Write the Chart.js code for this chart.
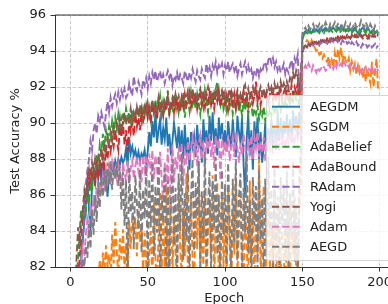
<!DOCTYPE html>
<html>
<head>
<meta charset="utf-8">
<script src="https://cdn.jsdelivr.net/npm/chart.js@4.4.1/dist/chart.umd.min.js"></script>
<style>
html,body{margin:0;padding:0;background:#fff;overflow:hidden;}
#wrap{width:400px;height:304px;}
</style>
</head>
<body>
<div id="wrap"><canvas id="c" width="400" height="304"></canvas></div>
<script>
const seriesNames = ["AEGDM","SGDM","AdaBelief","AdaBound","RAdam","Yogi","Adam","AEGD"];
const xTicks = [0,50,100,150,200];
const yTicks = [82,84,86,88,90,92,94,96];

const AEGDM = [
70,73,76,78,79.5,80.5,81.5,82.5,83.5,84.5,
85.5,86.8,85.2,84.0,86.6,87.4,86.5,87.9,86.9,87.6,
86.8,87.8,86.5,87.4,85.9,87.2,86.8,87.6,87.3,87.9,
87.5,88.0,87.7,88.1,87.8,88.0,88.6,87.6,89.2,88.3,
88.7,88.2,88.5,88.0,88.4,87.9,88.3,88.1,88.5,87.8,
88.4,89.5,88.7,90.1,89.2,90.5,88.9,89.6,90.2,88.8,
89.7,89.1,90.3,88.7,89.4,88.2,89.0,90.0,89.3,88.6,
89.8,88.4,89.6,88.0,89.9,88.3,89.2,87.4,89.5,88.7,
89.3,88.1,89.9,88.6,89.4,87.8,90.2,88.9,89.6,88.3,
90.4,89.0,90.6,88.8,89.7,88.2,90.3,89.1,90.0,88.7,
89.6,88.4,90.1,89.3,88.6,90.2,89.0,88.1,90.4,89.5,
88.9,90.3,87.7,85.9,89.1,90.5,88.2,89.6,87.4,90.1,
88.8,90.3,88.0,89.5,87.8,88.6,90.0,88.4,89.7,88.9,
90.2,88.7,89.9,88.5,90.6,89.0,90.3,88.8,90.1,89.4,
90.5,89.1,90.2,88.9,90.7,89.6,90.4,89.2,90.6,89.8,
94.8,95.0,95.1,95.0,95.2,95.1,95.0,95.2,95.1,95.2,
95.1,95.2,95.3,95.1,95.2,95.3,95.2,95.1,95.3,95.2,
95.3,95.2,95.1,95.3,95.2,95.4,95.2,95.3,95.1,95.2,
95.3,95.2,95.1,95.2,95.3,95.1,95.0,94.9,95.2,95.3,
95.2,95.1,95.3,95.2,95.0,95.1,95.2,95.0,95.1,94.9];

const SGDM = [
60,65,68,71,73,75,76,77,78,79,
79.5,80.0,80.5,81.0,80.6,81.4,80.8,81.8,81.2,82.4,
81.0,82.8,81.6,83.2,82.0,82.7,81.3,83.8,82.2,84.5,
82.9,81.5,83.6,82.4,84.1,81.8,83.3,80.9,84.6,83.0,
85.0,83.8,84.7,82.6,85.2,83.4,84.3,81.6,83.9,82.2,
80.5,82.8,84.0,81.2,85.6,82.4,80.8,83.7,86.2,81.5,
84.8,82.0,86.5,80.6,83.4,85.9,81.7,84.5,82.9,80.9,
86.8,83.1,81.4,85.3,82.6,87.2,81.0,84.2,86.0,82.3,
80.7,85.5,83.0,87.8,81.6,84.7,82.1,86.3,80.8,83.9,
85.8,82.5,87.1,81.3,84.4,86.7,80.5,83.6,85.9,82.0,
84.6,81.2,86.4,83.3,80.9,85.2,82.7,87.0,81.5,84.0,
86.1,82.4,80.6,85.7,83.1,81.0,86.8,82.2,84.9,80.7,
85.3,82.6,88.0,81.4,84.2,86.5,80.8,83.7,85.6,81.9,
84.5,82.3,86.2,80.9,83.8,85.1,81.6,84.0,82.5,80.8,
83.5,85.4,81.2,84.3,82.7,86.0,81.8,80.5,84.9,86.6,
93.9,94.2,94.4,94.6,94.5,94.3,94.6,94.4,94.2,94.0,
94.1,93.8,93.9,93.6,93.8,93.5,93.4,93.7,93.2,93.5,
93.1,93.9,93.3,94.1,93.6,94.2,93.4,93.8,93.5,93.3,
93.6,92.9,93.4,93.0,93.3,92.7,93.2,92.8,93.1,92.5,
92.9,92.3,93.0,92.6,92.2,93.4,92.0,92.8,93.6,91.8];

const AdaBelief = [
71,75,78,80,81.5,82.5,84.0,85.2,84.5,85.6,
85.0,86.3,85.5,87.0,86.2,87.6,86.8,88.2,87.5,88.8,
88.3,89.4,88.7,89.6,89.1,89.8,89.3,90.1,89.5,90.3,
89.7,90.5,89.9,90.2,90.6,90.0,90.8,90.3,90.6,90.1,
90.7,90.2,90.5,90.9,90.3,90.6,90.1,90.8,90.4,91.0,
90.5,90.9,90.2,91.1,90.6,91.3,90.4,90.9,91.5,90.5,
91.2,90.7,91.0,91.8,90.4,91.1,90.8,91.6,90.9,91.3,
90.6,91.2,90.8,91.5,90.3,91.0,91.4,90.7,91.7,91.0,
91.3,90.8,91.6,91.1,90.5,91.4,90.9,91.8,91.2,90.6,
91.5,91.0,91.7,91.2,91.9,92.3,91.4,91.0,91.6,90.8,
91.2,90.7,91.4,90.9,91.3,90.5,91.1,90.8,91.5,90.6,
91.0,90.4,91.2,90.7,91.3,90.5,90.9,91.1,90.3,90.8,
90.5,91.0,90.2,90.7,90.4,90.9,90.1,90.6,90.3,90.8,
90.4,90.9,90.5,91.0,90.6,91.1,90.7,91.2,90.8,91.3,
90.9,91.4,91.0,91.5,91.2,91.6,91.3,91.7,91.0,91.8,
94.6,94.9,95.0,94.9,95.1,95.0,95.1,95.0,95.2,95.0,
95.1,95.0,95.2,95.1,95.0,95.2,95.1,95.0,95.2,95.1,
95.0,95.2,95.1,95.2,95.0,95.1,95.2,95.1,95.0,95.2,
95.1,95.2,95.0,95.1,95.2,95.1,95.0,95.2,95.1,95.2,
95.1,95.0,95.2,95.1,95.0,95.1,95.2,95.0,95.1,95.0];

const AdaBound = [
70,74,77,79,80.5,81.5,82.5,83.5,84.6,85.5,
86.4,87.2,86.6,87.5,86.9,87.3,86.7,87.6,87.1,87.8,
87.4,88.2,87.6,88.5,88.0,88.8,88.4,89.2,88.7,89.5,
89.0,88.5,89.8,89.2,90.1,88.8,89.6,88.4,90.2,89.5,
90.0,89.3,90.5,89.8,90.3,89.6,90.7,90.1,90.5,90.9,
90.3,90.8,90.0,91.1,90.5,90.9,90.2,91.2,90.6,91.0,
90.4,91.2,90.7,91.4,90.5,90.9,91.3,90.6,91.5,90.8,
91.2,90.6,91.4,90.9,91.6,91.0,91.3,91.7,90.9,91.5,
91.1,91.6,90.8,91.4,91.8,91.0,91.5,90.9,91.6,91.2,
91.7,91.0,91.4,90.8,91.6,91.2,91.8,90.9,91.3,91.6,
91.0,91.5,90.7,91.3,91.7,91.1,91.6,90.8,91.4,91.0,
91.5,91.1,91.8,91.2,91.6,90.9,91.4,91.8,91.1,91.5,
92.3,91.2,91.7,91.0,91.5,91.9,91.3,91.7,91.1,91.6,
91.9,91.3,91.7,91.2,91.8,91.4,91.9,91.3,91.7,92.0,
91.5,91.9,91.4,92.1,91.6,92.0,91.7,92.2,91.5,91.9,
93.9,94.2,94.3,94.2,94.4,94.3,94.5,94.4,94.5,94.4,
94.5,94.4,94.6,94.5,94.6,94.5,94.7,94.6,94.5,94.7,
94.6,94.7,94.6,94.8,94.7,94.6,94.8,94.7,94.8,94.7,
94.8,94.7,94.8,94.7,94.9,94.8,94.7,94.9,94.8,94.7,
94.8,94.9,94.8,94.7,94.9,94.8,94.9,94.8,94.7,94.8];

const RAdam = [
70,75,77,79,80,81,81.5,82.5,83.5,85.0,
86.5,87.3,88.0,89.0,88.5,89.6,90.0,89.4,90.4,90.1,
90.6,90.2,89.8,90.5,91.2,90.6,91.4,90.9,91.3,91.6,
91.1,91.7,91.3,91.8,91.5,91.9,91.4,91.6,92.2,91.8,
91.5,92.6,92.0,91.8,92.3,92.0,91.6,92.4,92.1,92.5,
91.9,92.6,92.2,92.8,92.4,92.9,92.3,92.6,92.9,92.4,
92.7,92.2,92.6,92.9,92.5,92.8,92.1,92.6,92.4,92.8,
92.3,92.7,92.5,92.2,92.9,92.6,92.3,92.8,92.5,93.0,
92.6,92.3,92.9,92.6,92.4,93.0,92.7,92.5,93.3,92.8,
93.1,92.6,93.2,92.9,93.4,92.8,93.2,93.0,93.3,92.7,
93.2,92.9,93.4,92.8,93.1,93.3,92.9,93.2,92.6,93.0,
93.3,92.7,93.1,93.4,92.9,93.2,92.8,93.0,92.5,92.9,
92.7,93.1,92.6,93.0,92.8,93.2,93.4,93.0,93.5,93.7,
93.3,93.6,93.1,93.4,92.9,93.2,92.8,93.0,93.3,92.7,
93.0,92.8,93.2,93.5,92.9,93.6,93.3,93.8,91.8,92.4,
94.0,94.2,94.3,94.2,94.4,94.3,94.5,94.3,94.4,94.5,
94.4,94.3,94.5,94.4,94.6,94.5,94.4,94.6,94.5,94.6,
94.5,94.6,94.7,94.5,94.6,94.4,94.6,94.5,94.6,94.4,
94.5,94.3,94.5,94.4,94.3,94.5,94.3,94.4,94.2,94.4,
94.3,94.4,94.2,94.3,94.4,94.2,94.3,94.4,94.2,94.3];

const Yogi = [
72,76,78,80,82.5,84.2,83.0,84.5,85.2,86.2,
85.5,86.8,87.4,86.6,87.8,87.2,88.0,87.5,88.1,87.7,
88.4,88.0,88.9,88.3,89.2,88.8,89.5,89.0,89.8,89.4,
90.0,89.6,90.3,89.5,90.1,90.6,89.9,90.4,90.2,90.8,
90.1,90.6,90.3,90.9,90.4,91.0,90.5,90.2,90.9,90.6,
91.1,90.4,90.8,91.3,90.6,91.0,90.7,91.4,90.8,91.1,
90.6,91.2,90.9,91.5,90.8,91.1,91.4,90.9,91.6,91.2,
91.5,90.9,91.3,91.7,91.0,91.4,91.8,91.2,91.5,91.9,
91.3,91.7,91.1,91.6,91.9,91.4,91.8,91.2,91.6,92.0,
91.5,91.8,91.3,91.7,91.4,91.9,91.2,91.6,91.8,91.3,
91.7,91.2,91.5,91.9,91.3,91.6,91.1,91.5,91.8,91.2,
91.6,91.3,91.8,92.1,91.5,91.9,91.4,91.7,92.0,91.5,
91.8,91.3,91.7,92.0,91.6,91.9,91.4,91.8,92.1,91.7,
92.0,91.6,92.2,91.8,92.1,91.7,92.3,91.9,92.2,91.8,
92.3,92.0,92.5,92.2,92.8,92.4,92.9,92.6,92.0,92.8,
94.0,94.2,94.3,94.2,94.4,94.3,94.4,94.5,94.4,94.5,
94.4,94.6,94.5,94.6,94.5,94.7,94.6,94.5,94.7,94.6,
94.7,94.6,94.8,94.7,94.6,94.8,94.7,94.8,94.7,94.9,
94.8,94.7,94.9,94.8,94.7,94.9,94.8,94.7,94.9,94.8,
94.9,94.8,94.7,94.9,94.8,95.0,94.8,94.9,94.8,94.9];

const Adam = [
68,72,75,77,79,80.5,81.5,82.2,83.0,82.6,
83.8,84.6,84.0,85.4,84.8,86.0,85.2,86.5,85.8,86.8,
86.2,87.1,86.5,87.4,86.8,87.6,87.0,87.8,87.2,87.5,
86.9,87.7,87.1,86.4,87.8,87.2,86.8,87.9,86.6,87.5,
87.9,86.9,87.6,88.1,87.3,87.8,86.7,88.2,87.4,88.0,
87.6,88.3,87.1,88.5,86.9,88.2,87.5,86.2,88.4,87.0,
85.6,87.8,86.4,88.6,84.9,87.3,88.8,86.7,88.1,87.4,
88.7,87.2,88.9,86.5,88.4,87.7,89.0,87.9,88.6,89.2,
88.3,89.1,87.6,88.8,89.3,88.0,89.0,87.4,89.2,88.5,
89.4,88.1,88.9,87.5,89.3,88.6,89.1,86.8,89.4,88.2,
89.0,88.4,89.3,87.9,88.7,89.2,88.1,89.5,88.6,87.8,
88.9,88.2,89.4,88.7,87.5,89.1,88.4,89.3,88.0,89.2,
88.6,89.5,88.1,89.0,88.4,89.2,87.9,88.8,89.3,88.5,
89.0,88.3,89.4,88.7,89.1,88.4,89.5,88.8,89.2,88.6,
89.3,88.9,89.6,89.0,89.4,88.8,89.7,89.1,89.5,89.3,
92.8,93.0,93.2,93.0,93.3,93.1,92.9,93.2,93.0,92.8,
93.1,92.9,93.0,93.2,93.1,92.9,93.0,93.3,93.1,93.2,
93.0,93.3,93.1,93.4,93.2,93.3,93.1,93.4,93.2,93.3,
93.1,93.3,93.2,93.0,93.2,93.1,92.9,93.1,92.8,93.0,
92.9,93.1,92.8,93.0,92.9,93.1,92.8,93.0,93.1,92.9];

const AEGD = [
66,70,73,75,77,79,80.5,81.5,82.5,82.0,
83.2,82.5,84.4,83.0,85.2,83.8,86.0,84.5,86.7,85.3,
87.0,85.9,87.4,86.2,87.8,86.6,87.9,86.3,87.5,86.9,
87.8,86.5,87.6,85.2,87.3,84.3,86.8,81.0,87.5,85.0,
86.2,83.0,87.1,85.6,84.1,87.4,82.8,86.3,84.7,87.6,
81.5,86.9,84.2,87.8,82.6,86.5,83.9,88.2,81.2,86.0,
84.5,87.5,82.0,86.8,80.8,85.6,88.0,83.2,86.4,81.6,
87.2,84.0,88.3,82.4,86.1,83.5,87.6,81.3,85.8,88.0,
82.9,86.7,84.8,87.9,81.8,86.2,83.6,88.4,82.2,85.5,
87.3,81.4,86.8,84.2,88.1,82.7,86.0,80.9,87.4,83.8,
86.6,82.1,87.8,84.6,81.7,86.9,83.3,88.0,82.4,85.9,
87.2,81.1,86.4,83.9,88.2,82.8,85.7,80.6,87.0,84.3,
86.5,81.9,87.4,83.5,85.8,80.7,86.9,82.6,88.1,84.0,
86.3,81.2,87.5,83.4,85.9,81.8,87.0,84.2,86.6,82.5,
87.3,81.6,86.1,83.7,87.8,82.3,85.4,81.0,86.8,88.5,
95.0,95.2,95.3,95.1,95.4,95.2,95.3,95.5,95.2,95.4,
95.3,95.5,95.2,95.4,95.3,95.6,95.4,95.2,95.5,95.3,
95.4,95.6,95.3,95.5,95.4,95.2,95.5,95.3,95.6,95.4,
95.3,95.5,95.2,95.4,95.6,95.3,95.5,95.4,95.7,95.5,
95.3,95.6,95.4,95.2,95.5,95.3,95.1,95.4,95.2,95.0];

const epochs = AEGDM.map((_, i) => i);

const seriesValues = [AEGDM, SGDM, AdaBelief, AdaBound, RAdam, Yogi, Adam, AEGD];
const colors = ["#1f77b4","#ff7f0e","#2ca02c","#d62728","#9467bd","#8c564b","#e377c2","#7f7f7f"];
const DASH = [7.2, 3.1];
const LW = 1.9;

const datasets = seriesNames.map((name, k) => ({
  label: name,
  data: seriesValues[k].map((v, i) => ({x: epochs[i], y: v})),
  borderColor: colors[k],
  backgroundColor: colors[k],
  borderWidth: LW,
  borderDash: k === 0 ? [] : DASH,
  pointRadius: 0,
  tension: 0,
  fill: false,
  clip: 0,
  order: seriesNames.length - 1 - k
}));

const FONT = "'DejaVu Sans', sans-serif";
Chart.defaults.font.family = FONT;
Chart.defaults.font.size = 13;
Chart.defaults.color = "#222";

const legendPlugin = {
  id: "mplLegend",
  afterDatasetsDraw(chart) {
    const ctx = chart.ctx;
    const x0 = 266.5, y0 = 95.5, w = 140, h = 165, r = 3;
    ctx.save();
    ctx.beginPath();
    ctx.moveTo(x0 + r, y0);
    ctx.lineTo(x0 + w - r, y0);
    ctx.arcTo(x0 + w, y0, x0 + w, y0 + r, r);
    ctx.lineTo(x0 + w, y0 + h - r);
    ctx.arcTo(x0 + w, y0 + h, x0 + w - r, y0 + h, r);
    ctx.lineTo(x0 + r, y0 + h);
    ctx.arcTo(x0, y0 + h, x0, y0 + h - r, r);
    ctx.lineTo(x0, y0 + r);
    ctx.arcTo(x0, y0, x0 + r, y0, r);
    ctx.closePath();
    ctx.fillStyle = "rgba(255,255,255,0.8)";
    ctx.fill();
    ctx.strokeStyle = "rgba(204,204,204,0.8)";
    ctx.lineWidth = 1;
    ctx.stroke();
    chart.data.datasets.forEach((ds, i) => {
      const cy = 106.7 + i * 20;
      ctx.beginPath();
      ctx.setLineDash(ds.borderDash || []);
      ctx.strokeStyle = ds.borderColor;
      ctx.lineWidth = LW;
      ctx.moveTo(272, cy);
      ctx.lineTo(300, cy);
      ctx.stroke();
      ctx.setLineDash([]);
      ctx.fillStyle = "#222";
      ctx.font = "13px " + FONT;
      ctx.textBaseline = "middle";
      ctx.textAlign = "left";
      ctx.fillText(ds.label, 310, cy + 0.5);
    });
    ctx.restore();
  },
  beforeDatasetsDraw(chart) {
    const {ctx, chartArea} = chart;
    ctx.save();
    ctx.strokeStyle = "#333";
    ctx.lineWidth = 1;
    ctx.beginPath();
    ctx.moveTo(chartArea.left, chartArea.top);
    ctx.lineTo(chartArea.right, chartArea.top);
    ctx.lineTo(chartArea.right, chartArea.bottom);
    ctx.stroke();
    ctx.restore();
  }
};

new Chart(document.getElementById("c"), {
  type: "line",
  data: { datasets },
  plugins: [legendPlugin],
  options: {
    responsive: false,
    animation: false,
    events: [],
    layout: { padding: { top: 15, right: 6.5, left: 0, bottom: 0 } },
    plugins: { legend: { display: false }, tooltip: { enabled: false } },
    scales: {
      x: {
        type: "linear",
        min: -9.95,
        max: 208.95,
        afterBuildTicks(scale) { scale.ticks = xTicks.map(v => ({ value: v })); },
        afterFit(scale) { scale.height = 304 - 267; },
        ticks: { padding: 3, maxRotation: 0, color: "#222", font: { size: 13 } },
        grid: { color: "#cccccc", lineWidth: 1, tickLength: 4.5, tickColor: "#333", tickWidth: 1, tickBorderDash: [] },
        border: { display: true, color: "#333", width: 1, dash: [3.8, 1.7] },
        title: { display: true, text: "Epoch", color: "#222", font: { size: 13 }, padding: { top: 0, bottom: -2 } }
      },
      y: {
        type: "linear",
        min: 82,
        max: 96,
        afterBuildTicks(scale) { scale.ticks = yTicks.map(v => ({ value: v })); },
        afterFit(scale) { scale.width = 55; },
        ticks: { padding: 4.5, color: "#222", font: { size: 13 } },
        grid: { color: "#cccccc", lineWidth: 1, tickLength: 4.5, tickColor: "#333", tickWidth: 1, tickBorderDash: [] },
        border: { display: true, color: "#333", width: 1, dash: [3.8, 1.7] },
        title: { display: true, text: "Test Accuracy %", color: "#222", font: { size: 13 }, padding: { top: 8, bottom: 0 } }
      }
    }
  }
});
</script>
</body>
</html>
